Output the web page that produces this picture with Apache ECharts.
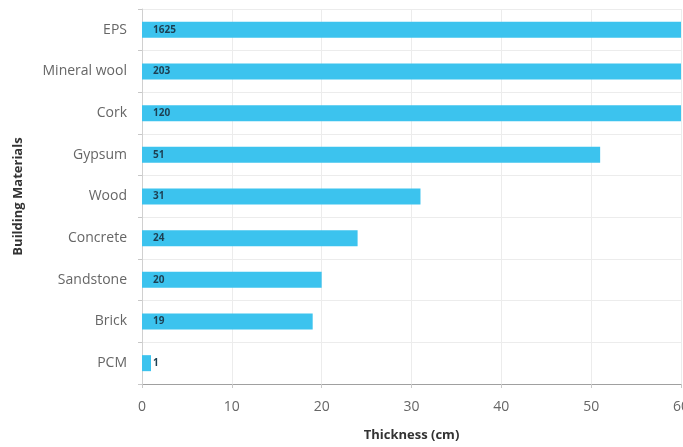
<!DOCTYPE html>
<html>
<head>
<meta charset="utf-8">
<script src="https://cdn.jsdelivr.net/npm/echarts@6/dist/echarts.min.js"></script>
<style>html,body{margin:0;padding:0;background:#fff;}#c{width:683px;height:447px;}</style>
</head>
<body>
<div id="c"></div>
<script>
const materials = ['EPS', 'Mineral wool', 'Cork', 'Gypsum', 'Wood', 'Concrete', 'Sandstone', 'Brick', 'PCM'];
const thickness = [1625, 203, 120, 51, 31, 24, 20, 19, 1];
const xTicks = [0, 10, 20, 30, 40, 50, 60];

const chart = echarts.init(document.getElementById('c'));
chart.setOption({
  animation: false,
  grid: { left: 142, right: 2, top: 9, bottom: 63, containLabel: false, outerBoundsMode: 'none' },
  xAxis: {
    type: 'value', min: xTicks[0], max: xTicks[xTicks.length - 1], interval: 10,
    name: 'Thickness (cm)', nameLocation: 'middle', nameGap: 45,
    nameTextStyle: { fontFamily: 'Open Sans', fontWeight: 'bold', fontSize: 13, color: '#333' },
    axisLine: { show: true, lineStyle: { color: '#a0a0a0', width: 1 } },
    axisTick: { show: true, length: 4, lineStyle: { color: '#c8c8c8' } },
    axisLabel: { fontFamily: 'Open Sans', fontSize: 14, color: '#666', margin: 16 },
    splitLine: { show: true, lineStyle: { color: '#ececec' } }
  },
  yAxis: {
    type: 'category', data: materials, inverse: true,
    name: 'Building Materials', nameLocation: 'middle', nameGap: 117, nameRotate: 90,
    nameTextStyle: { fontFamily: 'Open Sans', fontWeight: 'bold', fontSize: 13, color: '#333' },
    axisLine: { show: true, lineStyle: { color: '#d0d0d0' } },
    axisTick: { show: true, length: 4, lineStyle: { color: '#c8c8c8' } },
    axisLabel: { fontFamily: 'Open Sans', fontSize: 14, color: '#666', margin: 15 },
    splitLine: { show: true, lineStyle: { color: '#ececec' } }
  },
  series: [{
    type: 'bar', data: thickness, barWidth: 16, clip: true,
    itemStyle: { color: '#3cc3ee' },
    label: {
      show: true, position: [11, '50%'], align: 'left', verticalAlign: 'middle',
      fontFamily: 'Open Sans', fontSize: 10, fontWeight: 'bold', color: '#1d3f52'
    }
  }]
});
</script>
</body>
</html>
